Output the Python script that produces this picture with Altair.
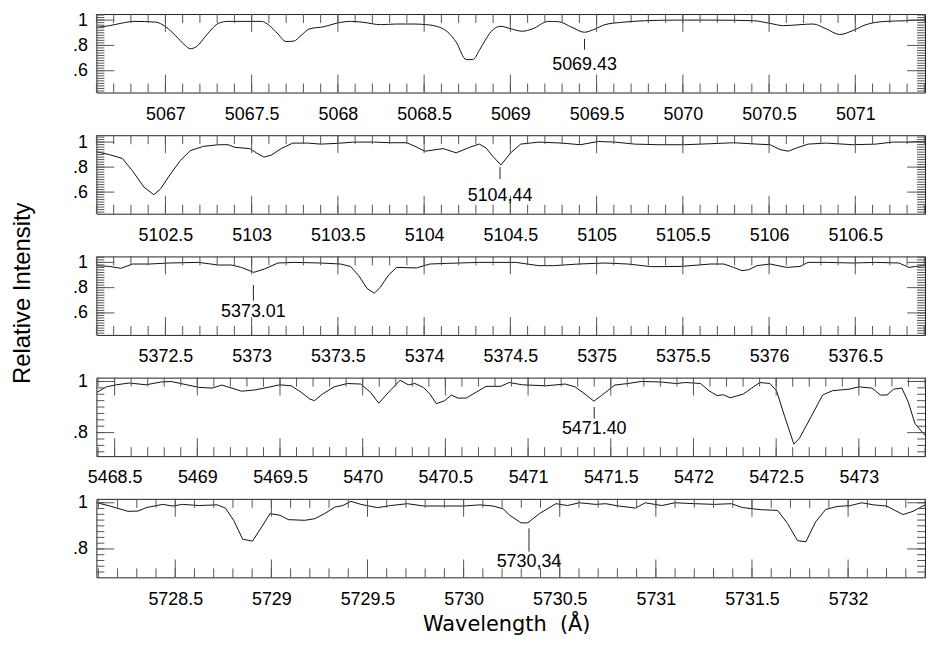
import altair as alt
import pandas as pd
import numpy as np

# ---------------- data ----------------
w1 = [5066.602, 5066.675, 5066.751, 5066.818, 5066.943, 5067.001, 5067.058, 5067.115, 5067.144, 5067.182,
      5067.221, 5067.269, 5067.307, 5067.364, 5067.460, 5067.556, 5067.604, 5067.652, 5067.699, 5067.744,
      5067.786, 5067.834, 5067.920, 5067.997, 5068.073, 5068.150, 5068.246, 5068.341, 5068.437, 5068.514,
      5068.590, 5068.638, 5068.686, 5068.744, 5068.782, 5068.820, 5068.859, 5068.897, 5068.945, 5068.993,
      5069.070, 5069.127, 5069.222, 5069.280, 5069.357, 5069.429, 5069.491, 5069.548, 5069.644, 5069.778,
      5069.970, 5070.161, 5070.410, 5070.506, 5070.583, 5070.679, 5070.755, 5070.832, 5070.909, 5070.985,
      5071.062, 5071.177, 5071.291, 5071.368, 5071.404]
v1 = [0.943, 0.956, 0.977, 0.990, 0.984, 0.948, 0.878, 0.800, 0.774, 0.792,
      0.852, 0.930, 0.974, 0.990, 0.990, 0.990, 0.956, 0.891, 0.831, 0.834,
      0.878, 0.930, 0.948, 0.977, 0.990, 0.982, 0.964, 0.969, 0.969, 0.964,
      0.943, 0.904, 0.826, 0.688, 0.688, 0.761, 0.852, 0.922, 0.951, 0.935,
      0.912, 0.930, 0.990, 0.987, 0.943, 0.904, 0.930, 0.964, 0.982, 0.995,
      1.0, 1.0, 0.995, 0.974, 0.956, 0.964, 0.969, 0.930, 0.886, 0.917,
      0.964, 0.990, 0.995, 1.0, 1.0]

w2 = [5102.102, 5102.175, 5102.251, 5102.309, 5102.376, 5102.433, 5102.472, 5102.529, 5102.587, 5102.644,
      5102.721, 5102.807, 5102.864, 5102.903, 5102.989, 5103.027, 5103.071, 5103.113, 5103.171, 5103.238,
      5103.324, 5103.401, 5103.497, 5103.593, 5103.707, 5103.803, 5103.899, 5103.947, 5104.004, 5104.110,
      5104.186, 5104.263, 5104.320, 5104.359, 5104.397, 5104.445, 5104.502, 5104.560, 5104.665, 5104.799,
      5104.905, 5105.010, 5105.106, 5105.221, 5105.355, 5105.508, 5105.661, 5105.795, 5105.929, 5106.006,
      5106.064, 5106.111, 5106.159, 5106.226, 5106.332, 5106.485, 5106.619, 5106.715, 5106.811, 5106.868,
      5106.904]
v2 = [0.922, 0.900, 0.869, 0.770, 0.639, 0.579, 0.626, 0.744, 0.853, 0.932,
      0.966, 0.979, 0.979, 0.958, 0.948, 0.914, 0.880, 0.895, 0.948, 0.992,
      0.992, 0.984, 0.990, 1.0, 1.0, 0.995, 0.995, 0.966, 0.927, 0.948,
      0.914, 0.958, 0.984, 0.953, 0.888, 0.817, 0.914, 0.984, 1.0, 0.992,
      0.979, 1.005, 1.0, 0.984, 0.979, 0.979, 0.987, 0.995, 0.984, 0.979,
      0.940, 0.927, 0.953, 0.984, 0.992, 0.979, 0.984, 1.0, 1.0, 1.005,
      1.0]

w3 = [5372.102, 5372.175, 5372.242, 5372.309, 5372.405, 5372.520, 5372.692, 5372.807, 5372.883, 5372.941,
      5373.012, 5373.075, 5373.152, 5373.247, 5373.401, 5373.516, 5373.573, 5373.621, 5373.669, 5373.711,
      5373.745, 5373.794, 5373.841, 5373.956, 5374.033, 5374.129, 5374.320, 5374.531, 5374.665, 5374.751,
      5374.895, 5375.048, 5375.182, 5375.317, 5375.489, 5375.661, 5375.738, 5375.795, 5375.843, 5375.882,
      5375.929, 5376.006, 5376.102, 5376.179, 5376.226, 5376.332, 5376.485, 5376.619, 5376.753, 5376.811,
      5376.849, 5376.887, 5376.904]
v3 = [0.974, 0.968, 0.953, 0.987, 0.987, 0.995, 1.0, 0.979, 0.979, 0.960,
      0.921, 0.948, 0.995, 1.0, 0.995, 0.987, 0.968, 0.895, 0.794, 0.755,
      0.802, 0.900, 0.960, 0.956, 0.987, 0.992, 1.0, 1.0, 0.974, 0.974,
      0.987, 0.995, 0.987, 0.966, 0.968, 0.987, 0.987, 0.960, 0.934, 0.942,
      0.974, 0.987, 0.960, 0.968, 1.0, 1.0, 0.995, 1.0, 0.995, 0.960,
      0.968, 0.974, 0.974]

w4 = [5468.394, 5468.450, 5468.510, 5468.590, 5468.690, 5468.780, 5468.840, 5468.900,
      5469.009, 5469.089, 5469.149, 5469.268, 5469.349, 5469.428, 5469.498, 5469.568, 5469.628, 5469.678,
      5469.708, 5469.757, 5469.827, 5469.907, 5469.987,
      5470.047, 5470.097, 5470.157, 5470.226, 5470.276, 5470.316, 5470.366, 5470.406, 5470.446, 5470.496,
      5470.536, 5470.576, 5470.626, 5470.686, 5470.746, 5470.835, 5470.885, 5470.965,
      5471.105, 5471.225, 5471.284, 5471.344, 5471.398, 5471.444, 5471.524, 5471.604, 5471.684, 5471.804,
      5471.893, 5471.953,
      5472.043, 5472.093, 5472.142, 5472.182, 5472.222, 5472.302, 5472.352, 5472.402, 5472.462, 5472.502,
      5472.552, 5472.607, 5472.641, 5472.711, 5472.781, 5472.841, 5472.941,
      5473.000, 5473.080, 5473.130, 5473.170, 5473.210, 5473.260, 5473.299, 5473.339, 5473.389, 5473.400]
v4 = [0.958, 0.979, 0.987, 0.994, 0.987, 0.998, 1.0, 0.992,
      0.977, 0.974, 0.986, 0.962, 0.967, 0.977, 0.987, 0.983, 0.958, 0.932,
      0.925, 0.951, 0.979, 0.992, 0.990,
      0.958, 0.915, 0.958, 1.005, 0.987, 0.992, 0.977, 0.951, 0.913, 0.925,
      0.947, 0.935, 0.935, 0.958, 0.981, 0.981, 0.996, 0.987,
      0.983, 0.990, 0.979, 0.951, 0.923, 0.945, 0.986, 0.992, 1.0, 0.998,
      0.992, 0.996,
      0.992, 0.964, 0.945, 0.948, 0.936, 0.951, 0.974, 0.996, 0.992, 0.964,
      0.862, 0.755, 0.778, 0.862, 0.947, 0.964, 0.970,
      0.979, 0.974, 0.947, 0.947, 0.970, 0.974, 0.919, 0.836, 0.797, 0.790]

w5 = [5728.094, 5728.160, 5728.254, 5728.306, 5728.349, 5728.435, 5728.486, 5728.538, 5728.624, 5728.718,
      5728.761, 5728.804, 5728.851, 5728.902, 5728.950, 5728.993,
      5729.045, 5729.088, 5729.174, 5729.226, 5729.277, 5729.329, 5729.371, 5729.414, 5729.466, 5729.552,
      5729.621, 5729.707, 5729.793, 5729.913, 5729.999,
      5730.084, 5730.153, 5730.205, 5730.240, 5730.299, 5730.334, 5730.394, 5730.480, 5730.541, 5730.601,
      5730.687, 5730.739, 5730.807, 5730.894, 5730.945,
      5731.031, 5731.100, 5731.203, 5731.306, 5731.392, 5731.452, 5731.547, 5731.633, 5731.685, 5731.737,
      5731.780, 5731.831, 5731.883, 5731.943,
      5732.012, 5732.072, 5732.132, 5732.200, 5732.286, 5732.338, 5732.389, 5732.400]
v5 = [1.0, 0.986, 0.963, 0.964, 0.979, 0.993, 0.986, 0.993, 0.988, 0.991,
      0.977, 0.924, 0.842, 0.834, 0.896, 0.953,
      0.946, 0.927, 0.924, 0.931, 0.953, 0.981, 0.988, 1.006, 0.993, 0.979,
      0.988, 0.996, 0.986, 0.986, 0.986,
      0.991, 0.986, 0.974, 0.946, 0.913, 0.913, 0.953, 0.996, 0.988, 1.0,
      0.993, 0.996, 0.986, 0.977, 1.0,
      0.988, 1.0, 0.996, 0.993, 0.996, 0.979, 0.970, 0.967, 0.910, 0.836,
      0.831, 0.917, 0.971, 0.984,
      0.988, 1.0, 0.991, 0.986, 0.949, 0.963, 0.986, 0.990]

# axis ranges
xdoms = [(5066.60, 5071.404), (5102.10, 5106.904), (5372.10, 5376.904), (5468.39, 5473.40), (5728.09, 5732.40)]
ydoms = [(0.428, 1.048), (0.427, 1.055), (0.426, 1.047), (0.708, 1.015), (0.677, 1.017)]
ylabels = [[0.6, 0.8, 1.0], [0.6, 0.8, 1.0], [0.6, 0.8, 1.0], [0.8, 1.0], [0.8, 1.0]]
yminor_steps = [0.02, 0.02, 0.02, 0.025, 0.025]

# identified lines: wavelength, marker top/bottom (intensity), label position, label text
line_w = [5069.43, 5104.44, 5373.01, 5471.40, 5730.34]
line_y1 = [0.852, 0.800, 0.821, 0.900, 0.889]
line_y2 = [0.766, 0.705, 0.697, 0.855, 0.788]
line_ly = [0.644, 0.566, 0.605, 0.813, 0.743]
line_lab = ["5069.43", "5104,44", "5373.01", "5471.40", "5730,34"]

# ---------------- chart ----------------
W, H = 834, 79
FONT = "Liberation Sans"
TICK = "#555"
FS = 18


def rng(lo, hi, step):
    k0 = int(np.ceil(lo / step - 1e-6))
    k1 = int(np.floor(hi / step + 1e-6))
    return [round(k * step, 4) for k in range(k0, k1 + 1)]


def panel(i, w, v, interp, extra=()):
    xdom, ydom = xdoms[i], ydoms[i]
    xs = alt.Scale(domain=list(xdom), nice=False, zero=False)
    ys = alt.Scale(domain=list(ydom), nice=False, zero=False)
    xmaj = rng(xdom[0], xdom[1], 0.5)
    xmin = rng(xdom[0], xdom[1], 0.1)
    ymaj = rng(ydom[0], ydom[1], 0.2)
    ymin = rng(ydom[0], ydom[1], yminor_steps[i])

    xaxis = alt.Axis(values=xmaj, format="~f", ticks=False, tickSize=0, domain=False, grid=False,
                     title=None, labelFontSize=FS, labelFont=FONT, labelColor="#000",
                     labelPadding=22, labelBaseline="middle", labelOverlap=False)
    yaxis = alt.Axis(values=ylabels[i],
                     labelExpr="datum.value >= 1 ? '1' : replace(format(datum.value, '.1f'), '0.', '.')",
                     ticks=False, tickSize=0, domain=False, grid=False, title=None,
                     labelFontSize=FS, labelFont=FONT, labelColor="#000", labelPadding=9,
                     labelOverlap=False)

    df = pd.DataFrame({"w": w, "v": v})
    spec = alt.Chart(df).mark_line(color="#111", strokeWidth=1, interpolate=interp, clip=True).encode(
        x=alt.X("w:Q", scale=xs, axis=xaxis),
        y=alt.Y("v:Q", scale=ys, axis=yaxis),
    )
    layers = [spec]

    def xr(vals, y0, y1):
        return alt.Chart(pd.DataFrame({"w": vals})).mark_rule(color=TICK, strokeWidth=1).encode(
            x=alt.X("w:Q", scale=xs, axis=xaxis), y=alt.value(y0), y2=alt.value(y1))

    def yr(vals, x0, x1):
        return alt.Chart(pd.DataFrame({"v": vals})).mark_rule(color=TICK, strokeWidth=1).encode(
            y=alt.Y("v:Q", scale=ys, axis=yaxis), x=alt.value(x0), x2=alt.value(x1))

    layers += [xr(xmaj, H, H - 18), xr(xmin, H, H - 9), xr(xmaj, 0, 18), xr(xmin, 0, 9),
               yr(ymaj, 0, 18), yr(ymin, 0, 8), yr(ymaj, W, W - 18), yr(ymin, W, W - 8)]

    mdf = pd.DataFrame({"w": [line_w[i]], "v": [line_y1[i]], "v2": [line_y2[i]],
                        "ly": [line_ly[i]], "label": [line_lab[i]]})
    layers.append(alt.Chart(mdf).mark_rule(color="#222", strokeWidth=1).encode(
        x=alt.X("w:Q", scale=xs, axis=xaxis), y=alt.Y("v:Q", scale=ys, axis=yaxis), y2="v2:Q"))
    layers.append(alt.Chart(mdf).mark_text(font=FONT, fontSize=FS, baseline="middle", align="center",
                                           color="#000").encode(
        x=alt.X("w:Q", scale=xs, axis=xaxis), y=alt.Y("ly:Q", scale=ys, axis=yaxis), text="label:N"))
    layers += list(extra)
    return alt.layer(*layers).properties(width=W, height=H)


ytitle = alt.Chart(pd.DataFrame({"t": ["Relative Intensity"]})).mark_text(
    angle=270, fontSize=24, font=FONT, color="#000", baseline="middle", align="center").encode(
    x=alt.value(-74), y=alt.value(37), text="t:N")

xtitle = alt.Chart(pd.DataFrame({"t": ["Wavelength\u00a0\u00a0(Å)"]})).mark_text(
    fontSize=21, font="DejaVu Sans", color="#000", baseline="middle", align="center").encode(
    x=alt.value(413), y=alt.value(H + 48), text="t:N")

p1 = panel(0, w1, v1, "monotone")
p2 = panel(1, w2, v2, "linear")
p3 = panel(2, w3, v3, "linear", [ytitle])
p4 = panel(3, w4, v4, "linear")
p5 = panel(4, w5, v5, "linear", [xtitle])

chart = alt.vconcat(p1, p2, p3, p4, p5, spacing=43, bounds="flush").properties(
    padding={"left": 2, "top": 0, "right": 0, "bottom": 0}
).configure_view(stroke="#222", strokeWidth=1)

chart.save("out.html", embed_options={"renderer": "svg", "actions": False})
